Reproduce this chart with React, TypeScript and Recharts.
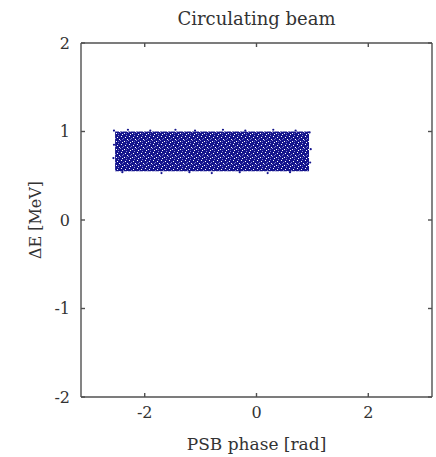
import { ScatterChart, Scatter, XAxis, YAxis, ReferenceArea, Label } from "recharts";

const phaseTicks = [-2, 0, 2];
const energyTicks = [-2, -1, 0, 1, 2];
const phaseDomain = [-3.14, 3.14];
const energyDomain = [-2, 2];

// extent of the dense bunch (phase in rad, energy in MeV)
const bunchPhase = [-2.53, 0.94];
const bunchEnergy = [0.55, 1.0];

// stray particles on the fuzzy edges of the bunch
const strayPhase = [-2.55, -2.3, -1.9, -1.45, -1.1, -0.6, -0.2, 0.3, 0.7, 0.95, -2.4, -1.7, -1.2, -0.8, -0.3, 0.2, 0.6, -2.56, -2.55, 0.96, 0.97];
const strayEnergy = [1.01, 1.02, 1.01, 1.02, 1.01, 1.02, 1.01, 1.02, 1.01, 0.99, 0.54, 0.53, 0.54, 0.53, 0.54, 0.53, 0.54, 0.7, 0.85, 0.65, 0.8];

const stray = strayPhase.map((p, i) => ({ phase: p, dE: strayEnergy[i] }));

const font = "'DejaVu Serif', 'Liberation Serif', serif";
const axisColor = "#505050";
const textColor = "#333";
const beamColor = "#14148c";

const Dot = (props: any) => <circle cx={props.cx} cy={props.cy} r={1.1} fill={beamColor} />;
const blank = () => "";

export default function App() {
  return (
    <div style={{ position: "absolute", left: 0, top: 0, background: "#fff" }}>
      <ScatterChart width={436} height={457} margin={{ top: 43, right: 4, bottom: 5, left: 31 }}>
        <defs>
          <pattern id="bunchDots" patternUnits="userSpaceOnUse" width="8" height="8">
            <rect width="8" height="8" fill={beamColor} />
            <g fill="#fff" shapeRendering="crispEdges">
              <rect x="1" y="0" width="1" height="1" />
              <rect x="5" y="1" width="1" height="1" />
              <rect x="3" y="2" width="1" height="1" fill="#7a7ac8" />
              <rect x="7" y="3" width="1" height="1" />
              <rect x="0" y="4" width="1" height="1" fill="#9a9ad8" />
              <rect x="4" y="5" width="1" height="1" />
              <rect x="2" y="6" width="1" height="1" />
              <rect x="6" y="7" width="1" height="1" fill="#8a8ad0" />
              <rect x="6" y="5" width="1" height="1" fill="#5a5ab8" />
              <rect x="2" y="3" width="1" height="1" fill="#6a6ac0" />
            </g>
          </pattern>
        </defs>
        {/* bottom: labels */}
        <XAxis
          type="number"
          dataKey="phase"
          domain={phaseDomain}
          ticks={phaseTicks}
          allowDataOverflow
          height={55}
          stroke={axisColor}
          strokeWidth={1.4}
          tickLine={false}
          tickSize={0}
          tickMargin={10}
          tick={{ fill: textColor, fontSize: 16, fontFamily: font }}
        >
          <Label value="PSB phase [rad]" position="insideBottom" offset={2} fill={textColor} fontSize={17} fontFamily={font} />
        </XAxis>
        {/* bottom: inward ticks */}
        <XAxis
          xAxisId="bottomTicks"
          orientation="bottom"
          mirror
          type="number"
          dataKey="phase"
          domain={phaseDomain}
          ticks={phaseTicks}
          allowDataOverflow
          height={10}
          stroke={axisColor}
          strokeWidth={1.4}
          axisLine={false}
          tickSize={4}
          tickFormatter={blank}
        />
        {/* top frame with inward ticks and the title */}
        <XAxis
          xAxisId="top"
          orientation="top"
          mirror
          type="number"
          dataKey="phase"
          domain={phaseDomain}
          ticks={phaseTicks}
          allowDataOverflow
          height={10}
          stroke={axisColor}
          strokeWidth={1.4}
          tickSize={4}
          tickFormatter={blank}
        >
          <Label value="Circulating beam" position="top" offset={18} fill={textColor} fontSize={18} fontFamily={font} />
        </XAxis>
        {/* left: labels */}
        <YAxis
          type="number"
          dataKey="dE"
          domain={energyDomain}
          ticks={energyTicks}
          allowDataOverflow
          width={50}
          stroke={axisColor}
          strokeWidth={1.4}
          tickLine={false}
          tickSize={0}
          tickMargin={11}
          tick={{ fill: textColor, fontSize: 16, fontFamily: font }}
        >
          <Label
            value="ΔE [MeV]"
            angle={-90}
            position="insideLeft"
            offset={4}
            fill={textColor}
            fontSize={16}
            fontFamily={font}
            style={{ textAnchor: "middle" }}
          />
        </YAxis>
        {/* left: inward ticks */}
        <YAxis
          yAxisId="leftTicks"
          orientation="left"
          mirror
          type="number"
          dataKey="dE"
          domain={energyDomain}
          ticks={energyTicks}
          allowDataOverflow
          width={10}
          stroke={axisColor}
          strokeWidth={1.4}
          axisLine={false}
          tickSize={4}
          tickFormatter={blank}
        />
        {/* right frame with inward ticks */}
        <YAxis
          yAxisId="right"
          orientation="right"
          mirror
          type="number"
          dataKey="dE"
          domain={energyDomain}
          ticks={energyTicks}
          allowDataOverflow
          width={10}
          stroke={axisColor}
          strokeWidth={1.4}
          tickSize={4}
          tickFormatter={blank}
        />
        <ReferenceArea
          x1={bunchPhase[0]}
          x2={bunchPhase[1]}
          y1={bunchEnergy[0]}
          y2={bunchEnergy[1]}
          fill="url(#bunchDots)"
          fillOpacity={1}
          stroke="none"
        />
        <Scatter data={stray} shape={Dot} isAnimationActive={false} />
      </ScatterChart>
    </div>
  );
}
